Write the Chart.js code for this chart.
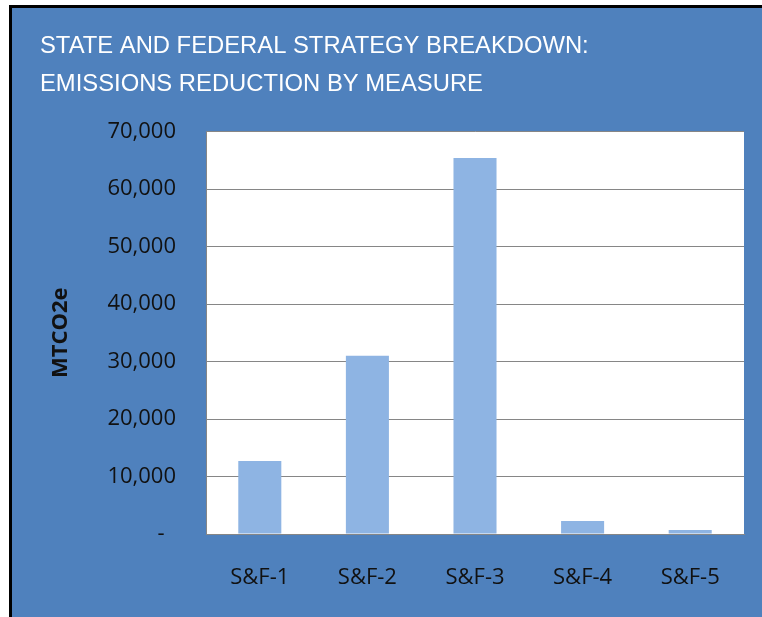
<!DOCTYPE html>
<html>
<head>
<meta charset="utf-8">
<script src="https://cdn.jsdelivr.net/npm/chart.js@4/dist/chart.umd.min.js"></script>
<style>
    html, body { margin: 0; padding: 0; background: #ffffff; }
    #frame {
        position: absolute;
        left: 9px;
        top: 5px;
        width: 750px;
        height: 609px;
        border-left: 3px solid #000000;
        border-top: 3px solid #000000;
        background: #4f81bd;
    }
    #frame canvas { display: block; }
</style>
</head>
<body>
<div id="frame"><canvas id="emissionsChart" width="750" height="609"></canvas></div>
<script>
const measures = ['S&F-1', 'S&F-2', 'S&F-3', 'S&F-4', 'S&F-5'];
const reductions = [12700, 31000, 65400, 2260, 700];
const titleLines = ['STATE AND FEDERAL STRATEGY BREAKDOWN:', 'EMISSIONS REDUCTION BY MEASURE'];
const yAxisLabel = 'MTCO2e';

const fontName = "'Open Sans', sans-serif";

// white plot area like the excel chart
const plotBackground = {
    id: 'plotBackground',
    beforeDraw: function (chart) {
        const a = chart.chartArea;
        const ctx = chart.ctx;
        ctx.save();
        ctx.fillStyle = '#ffffff';
        ctx.fillRect(a.left, a.top, a.right - a.left, a.bottom - a.top);
        ctx.restore();
    }
};

Chart.defaults.font.family = fontName;

const ctx = document.getElementById('emissionsChart');
const emissionsChart = new Chart(ctx, {
    type: 'bar',
    data: {
        labels: measures,
        datasets: [{
            label: 'Emissions reduction',
            data: reductions,
            backgroundColor: '#8eb4e3',
            borderWidth: 0,
            categoryPercentage: 1,
            barPercentage: 0.4,
        }]
    },
    plugins: [plotBackground],
    options: {
        responsive: false,
        animation: false,
        layout: {
            padding: { left: 28, right: 18, top: 0, bottom: 0 }
        },
        plugins: {
            legend: { display: false },
            tooltip: { enabled: false },
            title: {
                display: true,
                text: titleLines,
                align: 'start',
                color: '#ffffff',
                font: { family: "'Liberation Sans', Arial, sans-serif", size: 23.8, weight: 'normal', lineHeight: 38 / 23.8 },
                padding: { top: 19, bottom: 28.5 },
            },
        },
        scales: {
            x: {
                grid: { display: false, drawTicks: false },
                border: { display: true, color: '#868686', width: 1 },
                ticks: {
                    color: '#111111',
                    font: { size: 22 },
                    padding: 31,
                    maxRotation: 0,
                },
                afterFit: function (scale) {
                    scale.height = 83;
                },
            },
            y: {
                min: 0,
                max: 70000,
                grid: { color: '#868686', lineWidth: 1, drawTicks: false },
                border: { display: true, color: '#868686', width: 1 },
                ticks: {
                    stepSize: 10000,
                    color: '#111111',
                    font: { size: 22 },
                    padding: 30,
                    callback: function (value) {
                        if (value === 0) {
                            return '-  ';
                        }
                        return value.toLocaleString('en-US');
                    }
                },
                title: {
                    display: true,
                    text: yAxisLabel,
                    color: '#111111',
                    font: { size: 22, weight: 'bold', lineHeight: 1.2 },
                    padding: { top: 8, bottom: 0 },
                },
                afterFit: function (scale) {
                    scale.width = 166;
                },
            }
        }
    }
});
</script>
</body>
</html>
